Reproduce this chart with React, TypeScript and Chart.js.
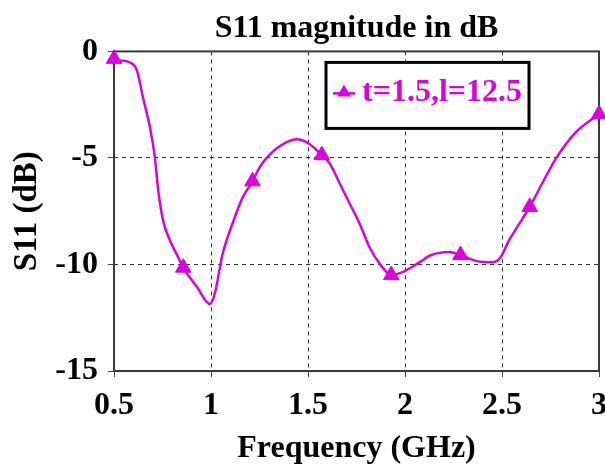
import { useEffect, useRef } from 'react';
import { Chart, registerables } from 'chart.js';

Chart.register(...registerables);

const titleText = 'S11 magnitude in dB';
const xTitle = 'Frequency (GHz)';
const yTitle = 'S11 (dB)';
const seriesLabel = 't=1.5,l=12.5';

const curveFreq = [
  0.5, 0.531, 0.582, 0.618, 0.649, 0.685, 0.711, 0.726, 0.752, 0.788, 0.83, 0.857,
  0.927, 0.995, 1.02, 1.06, 1.11, 1.164, 1.214, 1.25, 1.287, 1.354, 1.44, 1.5,
  1.571, 1.611, 1.663, 1.714, 1.765, 1.817, 1.868, 1.929, 1.987, 2.074, 2.13, 2.23,
  2.286, 2.367, 2.45, 2.49, 2.537, 2.643, 2.707, 2.78, 2.88, 3.0,
];
const curveS11 = [
  -0.35, -0.42, -0.52, -0.89, -2.15, -3.56, -5.0, -6.37, -7.9, -8.86, -9.65, -10.15,
  -11.05, -11.85, -11.35, -9.5, -8.1, -6.84, -6.1, -5.45, -5.0, -4.45, -4.12, -4.3,
  -4.87, -5.25, -6.19, -7.13, -8.06, -9.19, -9.94, -10.5, -10.36, -9.9, -9.58, -9.42,
  -9.56, -9.83, -9.9, -9.7, -8.86, -7.3, -6.2, -5.0, -3.8, -2.95,
];

const markerFreq = [0.5, 0.857, 1.214, 1.571, 1.929, 2.286, 2.643, 3.0];
const markerS11 = [-0.35, -10.15, -6.1, -4.87, -10.5, -9.56, -7.3, -2.95];

const xTicks = [0.5, 1, 1.5, 2, 2.5, 3];
const xTickLabels = ['0.5', '1', '1.5', '2', '2.5', '3'];
const yTicks = [-15, -10, -5, 0];
const yTickLabels = ['-15', '-10', '-5', '0'];

const MAGENTA = '#dd00dd';
const FONT = 'Liberation Serif';

const boxPlugin = {
  id: 'plotBox',
  beforeDatasetsDraw(chart: any) {
    const { ctx, chartArea } = chart;
    ctx.save();
    ctx.strokeStyle = '#3a3a3a';
    ctx.lineWidth = 2;
    ctx.strokeRect(chartArea.left, chartArea.top, chartArea.right - chartArea.left, chartArea.bottom - chartArea.top);
    ctx.restore();
  },
};

const legendPlugin = {
  id: 'boxLegend',
  afterDraw(chart: any) {
    const { ctx, chartArea } = chart;
    const left = chartArea.left + 212;
    const top = chartArea.top + 11;
    const w = 203;
    const h = 66;
    ctx.save();
    ctx.fillStyle = '#ffffff';
    ctx.fillRect(left, top, w, h);
    ctx.strokeStyle = '#000000';
    ctx.lineWidth = 3;
    ctx.strokeRect(left, top, w, h);
    const cy = top + 30;
    const sx = left + 18;
    ctx.strokeStyle = MAGENTA;
    ctx.lineWidth = 2.5;
    ctx.beginPath();
    ctx.moveTo(sx - 11, cy + 1);
    ctx.lineTo(sx + 11, cy + 1);
    ctx.stroke();
    ctx.fillStyle = MAGENTA;
    const r = 8;
    ctx.beginPath();
    ctx.moveTo(sx, cy - r);
    ctx.lineTo(sx + r * 0.866, cy + r * 0.5);
    ctx.lineTo(sx - r * 0.866, cy + r * 0.5);
    ctx.closePath();
    ctx.fill();
    ctx.font = `bold 32px "${FONT}"`;
    ctx.textBaseline = 'middle';
    ctx.textAlign = 'left';
    ctx.fillText(seriesLabel, left + 36, cy);
    ctx.restore();
  },
};

export default function App() {
  const ref = useRef<HTMLCanvasElement | null>(null);

  useEffect(() => {
    document.body.style.margin = '0';
    const canvas = ref.current;
    if (!canvas) return;
    const tickFont = { family: FONT, size: 32, weight: 'bold' as const };
    const chart = new Chart(canvas, {
      type: 'scatter',
      data: {
        datasets: [
          {
            label: seriesLabel,
            data: markerFreq.map((x, i) => ({ x, y: markerS11[i] })),
            pointStyle: 'triangle',
            pointRadius: 9,
            backgroundColor: MAGENTA,
            borderColor: MAGENTA,
            borderWidth: 1,
            showLine: false,
            clip: false,
          } as any,
          {
            label: 'curve',
            data: curveFreq.map((x, i) => ({ x, y: curveS11[i] })),
            showLine: true,
            pointRadius: 0,
            borderColor: MAGENTA,
            borderWidth: 2.5,
            cubicInterpolationMode: 'monotone',
            fill: false,
            clip: false,
          } as any,
        ],
      },
      options: {
        responsive: false,
        animation: false,
        layout: { autoPadding: false, padding: { left: 0, right: 6, top: 0, bottom: 0 } },
        plugins: {
          legend: { display: false },
          tooltip: { enabled: false },
          title: {
            display: true,
            text: titleText,
            fullSize: false,
            color: '#000',
            font: { family: FONT, size: 32, weight: 'bold' },
            padding: { top: 10, bottom: 3 },
          },
        },
        scales: {
          x: {
            type: 'linear',
            position: 'bottom',
            min: 0.5,
            max: 3,
            afterBuildTicks: (s: any) => {
              s.ticks = xTicks.map((v) => ({ value: v }));
            },
            afterFit: (s: any) => {
              s.height = 97;
              s.paddingLeft = 0;
              s.paddingRight = 0;
            },
            ticks: {
              callback: (_v: any, i: number) => xTickLabels[i],
              font: tickFont,
              color: '#000',
              padding: 10,
              maxRotation: 0,
              autoSkip: false,
            },
            grid: { color: '#333', lineWidth: 1, tickLength: 6, tickColor: '#444' },
            border: { display: false, dash: [4, 4] },
            title: {
              display: true,
              text: xTitle,
              color: '#000',
              font: tickFont,
              padding: { top: 0, bottom: 0 },
            },
          },
          y: {
            type: 'linear',
            position: 'left',
            min: -15,
            max: 0,
            afterBuildTicks: (s: any) => {
              s.ticks = yTicks.map((v) => ({ value: v }));
            },
            afterFit: (s: any) => {
              s.width = 114;
              s.paddingTop = 0;
              s.paddingBottom = 0;
              s.paddingLeft = 0;
              s.paddingRight = 0;
            },
            ticks: {
              callback: (_v: any, i: number) => yTickLabels[i],
              font: tickFont,
              color: '#000',
              padding: 10,
              autoSkip: false,
            },
            grid: { color: '#333', lineWidth: 1, tickLength: 6, tickColor: '#444' },
            border: { display: false, dash: [4, 4] },
            title: {
              display: true,
              text: yTitle,
              color: '#000',
              font: { family: FONT, size: 33, weight: 'bold' },
              padding: { top: 8, bottom: 0 },
            },
          },
        },
      },
      plugins: [boxPlugin, legendPlugin],
    });
    return () => chart.destroy();
  }, []);

  return <canvas ref={ref} width={605} height={468} style={{ display: 'block' }} />;
}
